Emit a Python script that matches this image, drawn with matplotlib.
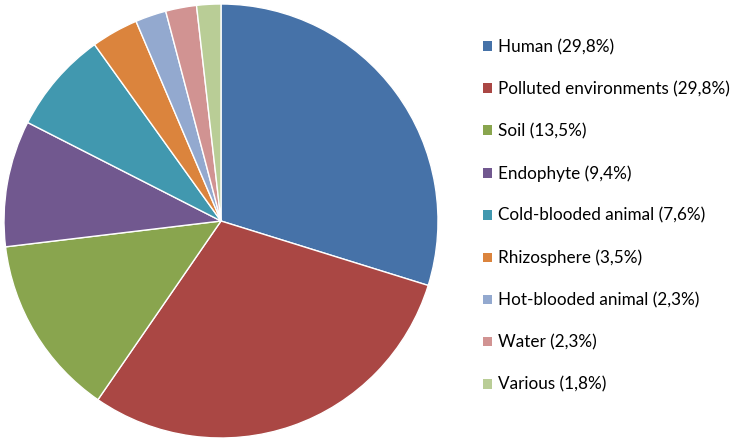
import matplotlib
matplotlib.use("Agg")
import matplotlib.pyplot as plt
from matplotlib.patches import Patch

categories = ["Human", "Polluted environments", "Soil", "Endophyte",
              "Cold-blooded animal", "Rhizosphere", "Hot-blooded animal",
              "Water", "Various"]
values = [29.8, 29.8, 13.5, 9.4, 7.6, 3.5, 2.3, 2.3, 1.8]
value_labels = ["29,8%", "29,8%", "13,5%", "9,4%", "7,6%", "3,5%", "2,3%", "2,3%", "1,8%"]
colors = ["#4672A8", "#AA4744", "#89A54E", "#71588F", "#4198AF",
          "#DB843D", "#93A9CF", "#D19392", "#B9CD96"]

W, H = 735, 442
fig = plt.figure(figsize=(W / 100, H / 100), dpi=100)
cx, cy, r = 221, 221, 217
ax = fig.add_axes([(cx - r) / W, (H - cy - r) / H, 2 * r / W, 2 * r / H])
ax.pie(values, colors=colors, startangle=90, counterclock=False,
       wedgeprops=dict(edgecolor="white", linewidth=1))
ax.set_aspect("equal")
ax.set_xlim(-1, 1)
ax.set_ylim(-1, 1)
ax.axis("off")

handles = [Patch(facecolor=c, edgecolor="none") for c in colors]
labels = [f"{c} ({v})" for c, v in zip(categories, value_labels)]
fig.legend(handles, labels, loc="upper left", bbox_to_anchor=(483 / W, 1 - 39 / H),
           frameon=False, prop=dict(family="Lato", size=12.3),
           handlelength=0.5, handleheight=0.5, handletextpad=0.35,
           labelspacing=1.52, borderaxespad=0, borderpad=0)
fig.savefig("out.png", dpi=100)
